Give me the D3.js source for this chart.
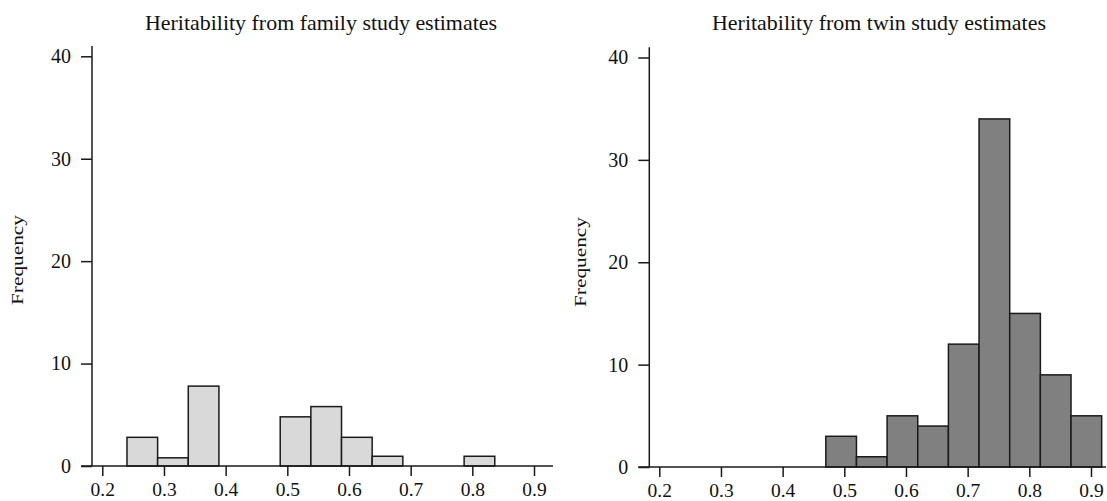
<!DOCTYPE html>
<html>
<head>
<meta charset="utf-8">
<script src="https://cdn.jsdelivr.net/npm/d3@7"></script>
<style>
  html, body { margin: 0; padding: 0; background: #fff; }
  svg { display: block; }
  text { font-family: "Liberation Serif", "Times New Roman", serif; fill: #111; }
</style>
</head>
<body>
<svg id="chart" width="1107" height="501"></svg>
<script>
// Histogram counts per bin (bin width ~0.05)
const familyCounts = [2.8, 0.8, 7.8, 0, 0, 4.8, 5.8, 2.8, 0.95, 0, 0, 0.95];
const familyBinStart = 0.24;
const twinCounts = [3, 1, 5, 4, 12, 34, 15, 9, 5];
const twinBinStart = 0.47;
const binWidth = 0.0497;

const xTicks = [0.2, 0.3, 0.4, 0.5, 0.6, 0.7, 0.8, 0.9];
const yTicks = [0, 10, 20, 30, 40];
const titles = ["Heritability from family study estimates", "Heritability from twin study estimates"];
const yLabel = "Frequency";

const svg = d3.select("#chart");
const ink = "#1a1a1a";

const panels = [
  { counts: familyCounts, start: familyBinStart, title: titles[0], fill: "#d9d9d9",
    xRange: [102.3, 534], yRange: [466, 56.3], axisX: 92, xLineEnd: 553,
    titleX: 321, titleLen: 352, labelX: 23, labelY: 260 },
  { counts: twinCounts, start: twinBinStart, title: titles[1], fill: "#808080",
    xRange: [659.3, 1091], yRange: [467, 57.5], axisX: 649.3, xLineEnd: 1106,
    titleX: 879, titleLen: 334, labelX: 586, labelY: 262 }
];

panels.forEach(p => {
  const x = d3.scaleLinear().domain([0.2, 0.9]).range(p.xRange);
  const y = d3.scaleLinear().domain([0, 40]).range(p.yRange);
  const g = svg.append("g");

  const bins = p.counts.map((c, i) => ({
    x0: p.start + i * binWidth,
    x1: p.start + (i + 1) * binWidth,
    count: c
  })).filter(d => d.count > 0);

  // bars
  g.selectAll("rect.bar").data(bins).join("rect")
    .attr("class", "bar")
    .attr("x", d => x(d.x0))
    .attr("width", d => x(d.x1) - x(d.x0))
    .attr("y", d => y(d.count))
    .attr("height", d => y(0) - y(d.count))
    .attr("fill", p.fill)
    .attr("stroke", ink)
    .attr("stroke-width", 1.5);

  // x axis
  const xAxis = d3.axisBottom(x).tickValues(xTicks).tickFormat(d3.format(".1f"))
    .tickSize(10).tickSizeOuter(0).tickPadding(6);
  const gx = g.append("g").attr("transform", `translate(0,${y(0)})`).call(xAxis);
  gx.select(".domain").remove();
  gx.append("line")
    .attr("x1", p.axisX - 11).attr("x2", p.xLineEnd)
    .attr("stroke", ink).attr("stroke-width", 1.5);
  gx.selectAll(".tick line").attr("stroke", ink).attr("stroke-width", 1.5);
  gx.selectAll(".tick text")
    .style("font-family", '"Liberation Serif", serif')
    .style("font-size", "19.5px").attr("fill", "#111");

  // y axis
  const yAxis = d3.axisLeft(y).tickValues(yTicks).tickFormat(d3.format("d"))
    .tickSize(11).tickSizeOuter(0).tickPadding(10);
  const gy = g.append("g").attr("transform", `translate(${p.axisX},0)`).call(yAxis);
  gy.select(".domain").remove();
  gy.append("line")
    .attr("y1", y(0)).attr("y2", y(41))
    .attr("stroke", ink).attr("stroke-width", 1.5);
  gy.selectAll(".tick line").attr("stroke", ink).attr("stroke-width", 1.5);
  gy.selectAll(".tick text")
    .style("font-family", '"Liberation Serif", serif')
    .style("font-size", "20px").attr("fill", "#111");

  // title
  g.append("text")
    .attr("x", p.titleX).attr("y", 29.5)
    .attr("text-anchor", "middle")
    .attr("textLength", p.titleLen)
    .attr("lengthAdjust", "spacingAndGlyphs")
    .style("font-size", "21px")
    .text(p.title);

  // y label
  g.append("text")
    .attr("transform", `translate(${p.labelX},${p.labelY}) rotate(-90)`)
    .attr("text-anchor", "middle")
    .attr("textLength", 90)
    .attr("lengthAdjust", "spacingAndGlyphs")
    .style("font-size", "17.5px")
    .text(yLabel);
});
</script>
</body>
</html>
